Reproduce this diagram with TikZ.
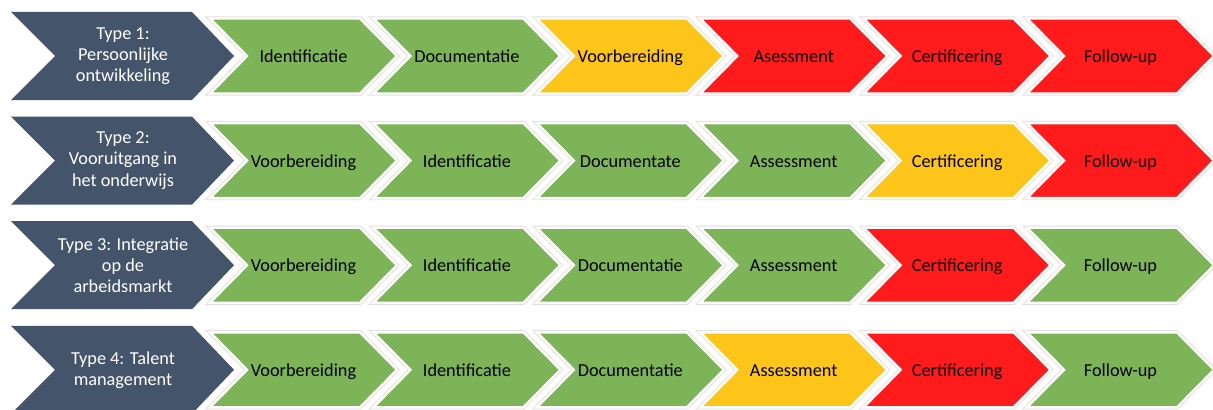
\documentclass[tikz,border=0pt]{standalone}
\usepackage{fontspec}
\setmainfont{Carlito}
\usetikzlibrary{calc}

\definecolor{leisteen}{RGB}{68,84,106}
\definecolor{groen}{RGB}{125,180,87}
\definecolor{geel}{RGB}{253,197,26}
\definecolor{rood}{RGB}{255,27,27}
\definecolor{rand}{RGB}{228,222,222}

\begin{document}
\begin{tikzpicture}[x=0.75pt,y=-0.75pt]
			%\draw[help lines,step=50] (0,0) grid (1213,410);
			\useasboundingbox (0,0) rectangle (1213,410);
			\fontsize{13.7}{15.8}\selectfont
			% eerste kolom: de types
			\foreach \rij/\type in {1/{Type 1:\\Persoonlijke\\ontwikkeling},
			                        2/{Type 2:\\Vooruitgang in\\het onderwijs},
			                        3/{Type 3: Integratie\\op de\\arbeidsmarkt},
			                        4/{Type 4: Talent\\management}}{
			  \pgfmathsetmacro\yc{56+104.6*(\rij-1)}
			  \coordinate (r\rij) at (0,\yc);
			  \fill[leisteen] (11,\yc-44) -- (192,\yc-44) -- (234,\yc) -- (192,\yc+44) -- (11,\yc+44) -- (55,\yc) -- cycle;
			  \node[text=white,align=center] (type\rij) at (123,\yc) {\type};
			}
			% de stappen per type
			\foreach \rij/\stappen in {1/{groen/Identificatie,groen/Documentatie,geel/Voorbereiding,rood/Asessment,rood/Certificering,rood/Follow-up},
			                           2/{groen/Voorbereiding,groen/Identificatie,groen/Documentate,groen/Assessment,geel/Certificering,rood/Follow-up},
			                           3/{groen/Voorbereiding,groen/Identificatie,groen/Documentatie,groen/Assessment,rood/Certificering,groen/Follow-up},
			                           4/{groen/Voorbereiding,groen/Identificatie,groen/Documentatie,geel/Assessment,rood/Certificering,groen/Follow-up}}{
			  \foreach \kleur/\tekst [count=\stap] in \stappen {
			    \pgfmathsetmacro\yc{56+104.6*(\rij-1)}
			    \pgfmathsetmacro\xa{210+163.4*(\stap-1)}
			    \draw[rand,line width=3.2pt] (\xa,\yc-37.5) -- ++(150,0) -- ++(37,37.5) -- ++(-37,37.5) -- ++(-150,0) -- ++(37,-37.5) -- cycle;
			    \filldraw[fill=\kleur,draw=white,line width=1.8pt] (\xa,\yc-37.5) -- ++(150,0) -- ++(37,37.5) -- ++(-37,37.5) -- ++(-150,0) -- ++(37,-37.5) -- cycle;
			    \node[text height=2ex,text depth=.5ex] (stap\rij-\stap) at (\xa+93.5,\yc) {\tekst};
			  }
			}
\end{tikzpicture}
\end{document}
